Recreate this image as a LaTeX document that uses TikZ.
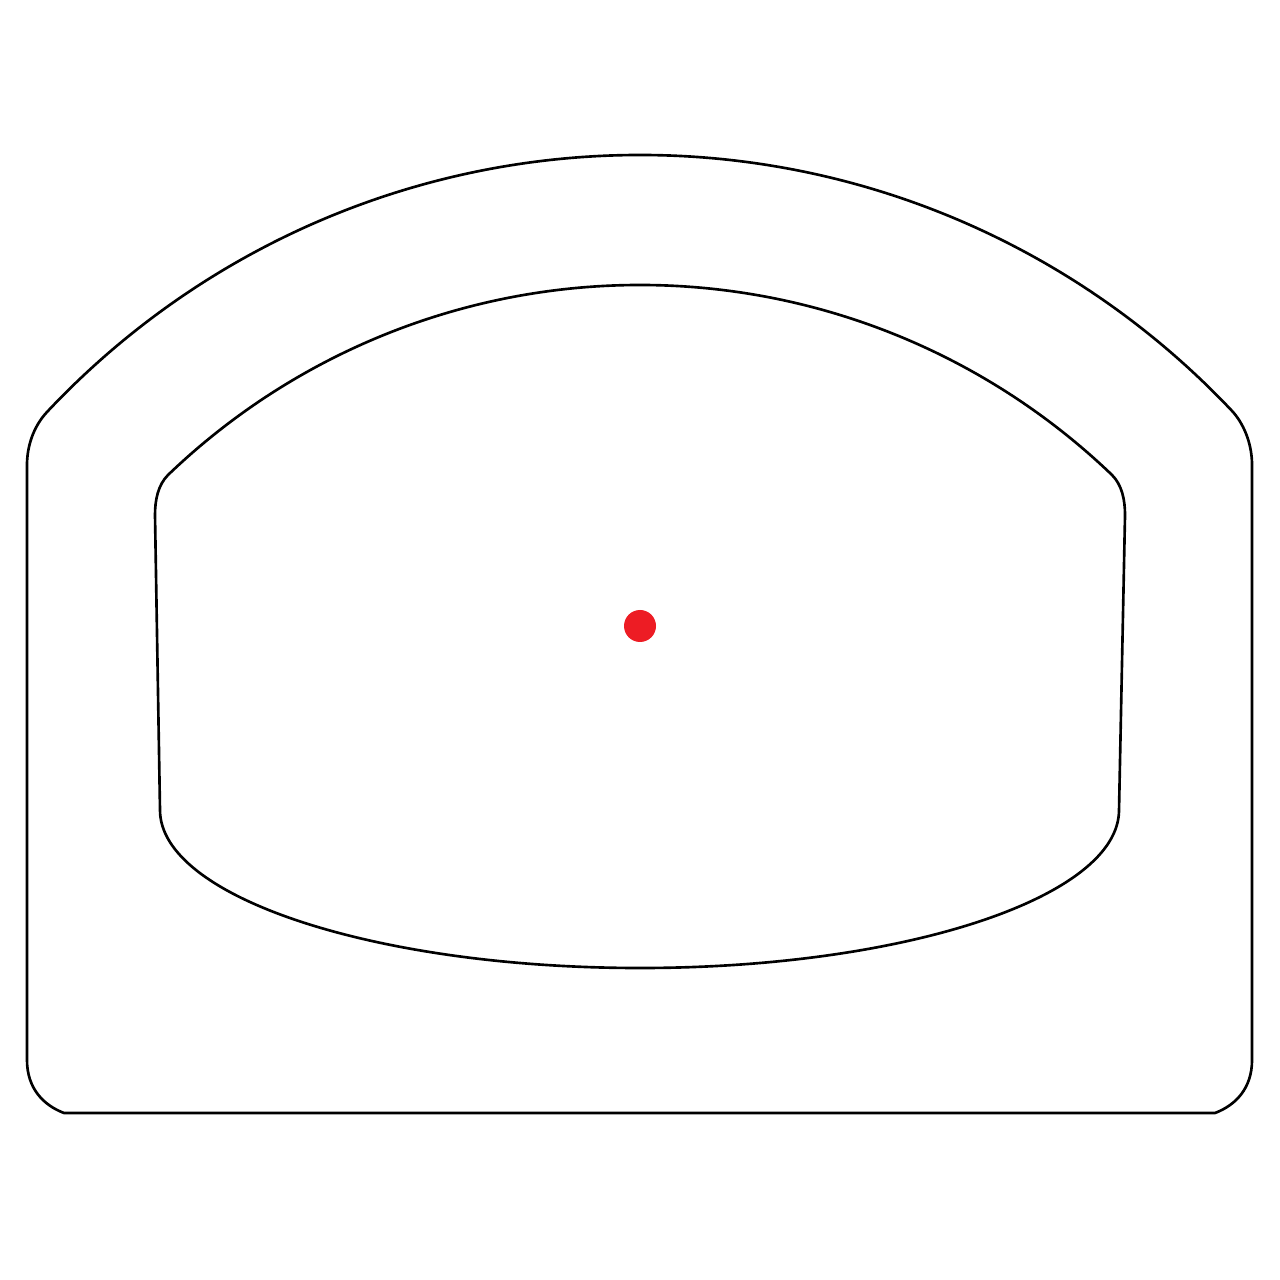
\documentclass[tikz,border=0pt]{standalone}
\begin{document}
\begin{tikzpicture}[x=0.01cm,y=-0.01cm,
  outline/.style={draw=black,line width=0.75pt,line join=round},
  reddot/.style={fill={rgb,255:red,237;green,28;blue,36}}]
\fill[white] (0,0) rectangle (1280,1280);
\useasboundingbox (0,0) rectangle (1280,1280);
% outer housing
\draw[outline] (64,1113) -- (1215,1113)
  .. controls (1236,1105) and (1252,1088) .. (1252,1060)
  -- (1252,465)
  .. controls (1252,447) and (1246,427) .. (1233,412)
  .. controls (1079,248) and (865,155) .. (640,155)
  .. controls (415,155) and (201,248) .. (47,412)
  .. controls (33,427) and (27,447) .. (27,465)
  -- (27,1060)
  .. controls (27,1088) and (43,1105) .. (64,1113) -- cycle;
% inner window
\draw[outline] (160,810) -- (155,515)
  .. controls (155,500) and (158,485) .. (168,475)
  .. controls (295,353) and (464,285) .. (640,285)
  .. controls (816,285) and (985,353) .. (1112,475)
  .. controls (1122,485) and (1125,500) .. (1125,515)
  -- (1119,810)
  .. controls (1119,897) and (905,968) .. (640,968)
  .. controls (375,968) and (160,897) .. (160,810) -- cycle;
% red dot
\fill[reddot] (640,626) circle[radius=16];
\end{tikzpicture}
\end{document}
